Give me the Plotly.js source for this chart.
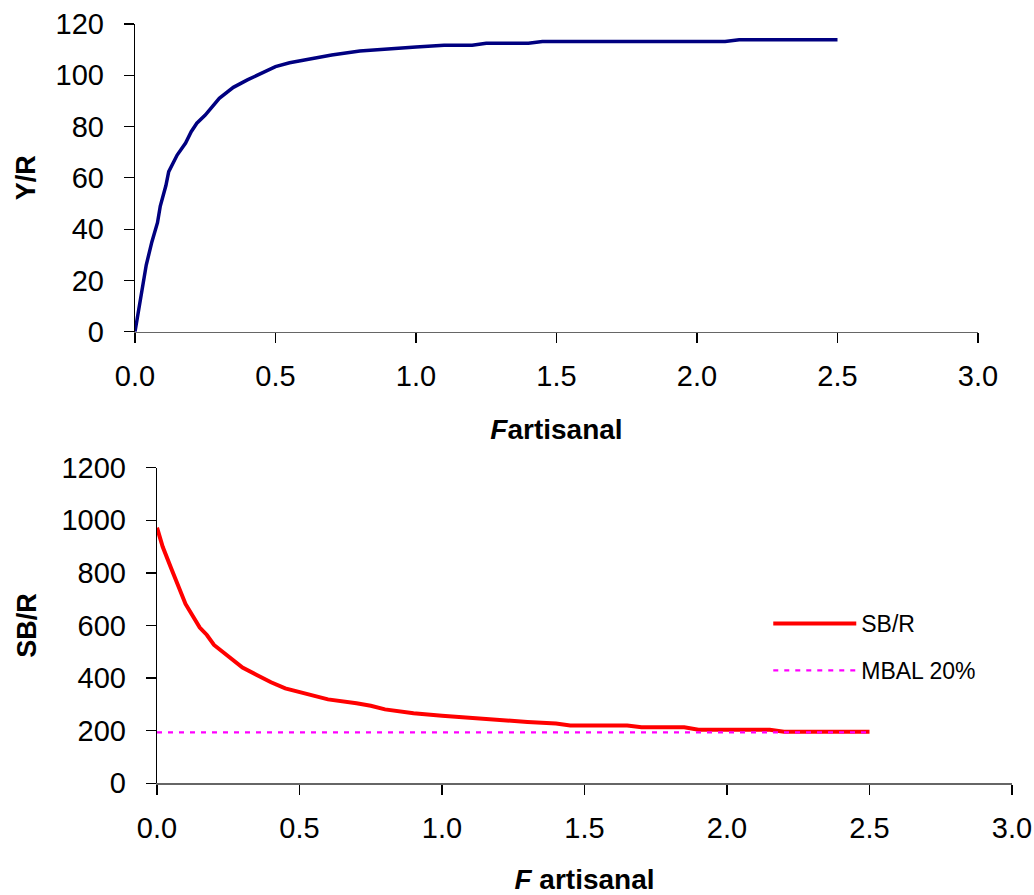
<!DOCTYPE html>
<html>
<head>
<meta charset="utf-8">
<script src="https://cdn.plot.ly/plotly-3.0.1.min.js"></script>
<style>
html,body{margin:0;padding:0;background:#fff;}
#chart{width:1034px;height:895px;}
</style>
</head>
<body>
<div id="chart"></div>
<script>
// Top panel: yield per recruit vs F artisanal
const F_yr = [0, 0.02, 0.04, 0.06, 0.08, 0.09, 0.11, 0.12, 0.15, 0.18, 0.20, 0.22, 0.25, 0.30, 0.35, 0.40, 0.45, 0.50, 0.55, 0.60, 0.70, 0.80, 0.90, 1.00, 1.10, 1.20, 1.25, 1.40, 1.45, 2.10, 2.15, 2.50];
const YR   = [0, 14, 26, 35, 42.5, 49, 57, 62.4, 68.9, 73.6, 78, 81.3, 84.5, 91, 95.3, 98.2, 100.8, 103.4, 104.9, 106, 107.9, 109.5, 110.1, 111, 111.7, 111.7, 112.5, 112.5, 113.2, 113.2, 113.9, 113.9];

// Bottom panel: spawning biomass per recruit vs F artisanal
const F_sb = [0, 0.02, 0.05, 0.10, 0.15, 0.175, 0.20, 0.25, 0.30, 0.35, 0.40, 0.45, 0.50, 0.60, 0.70, 0.75, 0.80, 0.90, 1.00, 1.10, 1.20, 1.30, 1.40, 1.45, 1.65, 1.70, 1.85, 1.90, 2.15, 2.20, 2.50];
const SBR  = [972, 899, 817, 682, 592, 564, 526, 481, 440, 412, 384, 361, 346, 319, 304, 295, 281, 266, 257, 248, 240, 233, 227, 220, 220, 213, 213, 204, 204, 196, 196];

// MBAL reference (20% of virgin SB/R)
const F_mbal = [0, 2.5];
const MBAL   = [194, 194];

const xTicks = [0, 0.5, 1.0, 1.5, 2.0, 2.5, 3.0];
const xTickText = ['0.0', '0.5', '1.0', '1.5', '2.0', '2.5', '3.0'];

const FONT = 'Liberation Sans, Arial, sans-serif';
const tickFont = {family: FONT, size: 29, color: '#000'};

const traces = [
  {x: F_yr, y: YR, xaxis: 'x', yaxis: 'y', type: 'scatter', mode: 'lines',
   line: {color: '#000080', width: 3.5}, showlegend: false, name: 'Y/R'},
  {x: F_sb, y: SBR, xaxis: 'x2', yaxis: 'y2', type: 'scatter', mode: 'lines',
   line: {color: '#FF0000', width: 4}, name: 'SB/R', legendgroup: 'a'},
  {x: F_mbal, y: MBAL, xaxis: 'x2', yaxis: 'y2', type: 'scatter', mode: 'lines',
   line: {color: '#FF00FF', width: 2.2, dash: '5px,6px'}, name: 'MBAL 20%', legendgroup: 'b'}
];

function xAxis(domain, anchor, title, standoff) {
  return {
    domain: domain, anchor: anchor, range: [0, 3], tickvals: xTicks, ticktext: xTickText,
    showline: true, linecolor: '#666', linewidth: 1.5, ticks: 'outside', ticklen: 10,
    tickcolor: '#000', tickwidth: 1.2, showgrid: false, zeroline: false,
    tickfont: tickFont, ticklabelstandoff: 8,
    title: {text: title, font: {family: FONT, size: 28, color: '#000'}, standoff: standoff}
  };
}
function yAxis(domain, anchor, range, dtick, title, standoff) {
  return {
    domain: domain, anchor: anchor, range: range, dtick: dtick, tick0: 0,
    showline: true, linecolor: '#000', linewidth: 1.2, ticks: 'outside', ticklen: 10,
    tickcolor: '#000', tickwidth: 1.2, showgrid: false, zeroline: false,
    tickfont: tickFont, ticklabelstandoff: 14,
    title: {text: title, font: {family: FONT, size: 27, color: '#000'}, standoff: standoff}
  };
}

const layout = {
  width: 1034, height: 895,
  margin: {l: 0, r: 0, t: 0, b: 0},
  paper_bgcolor: '#fff', plot_bgcolor: '#fff',
  font: {family: FONT, color: '#000'},
  xaxis: xAxis([135/1034, 978/1034], 'y', '<b><i>F</i>artisanal</b>', 28),
  yaxis: yAxis([1 - 331.7/895, 1 - 24/895], 'x', [0, 120], 20, '<b>Y/R</b>', 12),
  xaxis2: xAxis([157/1034, 1012/1034], 'y2', '<b><i>F</i> artisanal</b>', 27),
  yaxis2: yAxis([1 - 783.3/895, 1 - 467.7/895], 'x2', [0, 1200], 200, '<b>SB/R</b>', 17),
  showlegend: true,
  legend: {x: 0.743, y: 1 - 602/895, xanchor: 'left', yanchor: 'top',
           font: {family: FONT, size: 23, color: '#000'}, bgcolor: 'rgba(0,0,0,0)',
           itemwidth: 83, traceorder: 'grouped', tracegroupgap: 14}
};

Plotly.newPlot('chart', traces, layout, {staticPlot: true});
</script>
</body>
</html>
